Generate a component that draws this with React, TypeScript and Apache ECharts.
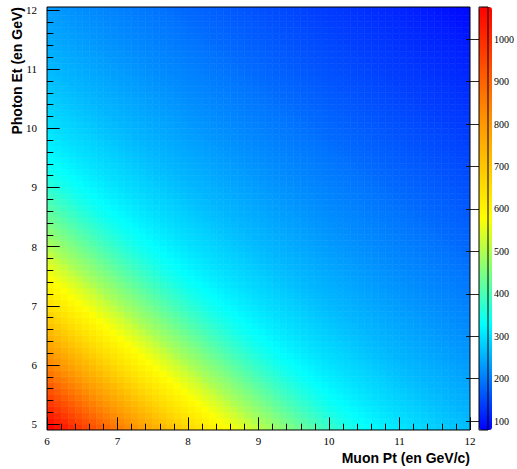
import React, { useEffect, useRef } from "react";
import * as echarts from "echarts";

// Histogram binning (data coordinates)
const muonPtRange = [6, 12];
const photonEtRange = [4.9, 12.05];
const binWidth = 0.1;
const countRange = [79, 1076];

// Bin contents read from the picture along anti-diagonals
// (Muon Pt + Photon Et = 11.0, 11.1, ..., 24.0)
const countsByPtSum = [
  1070, 1046, 1022, 999, 976, 954, 932, 910, 889, 868,
  848, 827, 806, 786, 766, 746, 727, 708, 689, 670,
  652, 636, 621, 606, 591, 576, 562, 548, 534, 520,
  500, 487, 474, 461, 448, 435, 422, 410, 398, 386,
  375, 364, 354, 345, 337, 330, 323, 317, 312, 307,
  302, 297, 293, 289, 285, 281, 277, 273, 269, 265,
  262, 258, 255, 252, 249, 246, 243, 240, 237, 234,
  232, 229, 226, 224, 221, 218, 216, 213, 211, 208,
  206, 203, 201, 198, 196, 193, 191, 188, 186, 183,
  181, 179, 176, 174, 172, 169, 167, 165, 162, 160,
  158, 156, 154, 151, 149, 147, 145, 143, 141, 139,
  137, 135, 133, 131, 129, 126, 124, 122, 120, 117,
  115, 113, 110, 108, 105, 102, 99, 96, 93, 90,
  87,
];

const palette = ["#0000ff", "#00ffff", "#ffff00", "#ff8c00", "#ff0000"];

const xTitle = "Muon Pt (en GeV/c)";
const yTitle = "Photon Et (en GeV)";

function buildCells() {
  const nx = Math.round((muonPtRange[1] - muonPtRange[0]) / binWidth);
  const ny = Math.ceil((photonEtRange[1] - photonEtRange[0]) / binWidth - 1e-9);
  const cells: number[][] = [];
  for (let r = 0; r < ny; r++) {
    for (let c = 0; c < nx; c++) {
      const x0 = muonPtRange[0] + c * binWidth;
      const y0 = photonEtRange[0] + r * binWidth;
      const x1 = Math.min(x0 + binWidth, muonPtRange[1]);
      const y1 = Math.min(y0 + binWidth, photonEtRange[1]);
      const v = countsByPtSum[r + c];
      if (v === undefined) continue;
      cells.push([x0, y0, x1, y1, v]);
    }
  }
  return cells;
}

const serif = '"Liberation Serif", "Times New Roman", serif';
const sans = '"Liberation Sans", Arial, Helvetica, sans-serif';

export default function App() {
  const ref = useRef<HTMLDivElement>(null);
  useEffect(() => {
    if (!ref.current) return;
    const chart = echarts.init(ref.current, null, { renderer: "svg" });
    const tickStyle = { color: "#000", width: 1 };
    const option: any = {
      animation: false,
      backgroundColor: "#fff",
      grid: [
        { left: 47, right: 47, top: 7, bottom: 39, show: true, borderColor: "#000", borderWidth: 1, backgroundColor: "transparent", z: 10 },
        { left: 479, top: 7, width: 13, height: 423, show: true, borderColor: "#000", borderWidth: 1, backgroundColor: "transparent", z: 10 },
        { left: 47, right: 47, top: 9.96, bottom: 44.92 },
      ],
      xAxis: [
        {
          gridIndex: 0, type: "value", min: muonPtRange[0], max: muonPtRange[1], interval: 1,
          axisLine: { show: false },
          axisTick: { show: true, inside: true, length: 12.7, lineStyle: tickStyle },
          minorTick: { show: true, splitNumber: 5, length: 6.3, lineStyle: tickStyle },
          splitLine: { show: false }, minorSplitLine: { show: false },
          axisLabel: { color: "#000", fontFamily: serif, fontSize: 11, margin: 5 },
          z: 11,
        },
        { gridIndex: 1, type: "value", min: 0, max: 1, show: false },
        { gridIndex: 2, type: "value", min: 0, max: 1, show: false },
      ],
      yAxis: [
        { gridIndex: 0, type: "value", min: photonEtRange[0], max: photonEtRange[1], show: false },
        {
          gridIndex: 1, type: "value", min: countRange[0], max: countRange[1], splitNumber: 10, position: "right",
          axisLine: { show: false },
          axisTick: { show: true, inside: true, length: 13, lineStyle: { color: "#000", width: 1, opacity: 0.85 } },
          splitLine: { show: false },
          axisLabel: {
            color: "#000", fontFamily: serif, fontSize: 10, margin: 6,
            showMinLabel: false, showMaxLabel: false,
            formatter: (v: number) => String(v),
          },
          z: 11,
        },
        {
          gridIndex: 2, type: "value", min: 5, max: 12, interval: 1,
          axisLine: { show: false },
          axisTick: { show: true, inside: true, length: 12.7, lineStyle: tickStyle },
          minorTick: { show: true, splitNumber: 5, length: 6.3, lineStyle: tickStyle },
          splitLine: { show: false }, minorSplitLine: { show: false },
          axisLabel: { color: "#000", fontFamily: serif, fontSize: 11, margin: 10 },
          z: 11,
        },
      ],
      visualMap: {
        type: "continuous",
        min: countRange[0], max: countRange[1],
        dimension: 4, seriesIndex: 0,
        inRange: { color: palette },
        orient: "vertical",
        left: 479, top: 7, itemWidth: 13, itemHeight: 423,
        padding: 0, calculable: false, hoverLink: false,
        z: 5,
      },
      series: [
        {
          type: "custom",
          xAxisIndex: 0, yAxisIndex: 0,
          clip: true, silent: true, progressive: 0,
          encode: { x: [0, 2], y: [1, 3] },
          data: buildCells(),
          renderItem: (params: any, api: any) => {
            const p0 = api.coord([api.value(0), api.value(3)]);
            const p1 = api.coord([api.value(2), api.value(1)]);
            const col = api.visual("color");
            return {
              type: "rect",
              shape: { x: p0[0], y: p0[1], width: p1[0] - p0[0], height: p1[1] - p0[1] },
              style: { fill: col, stroke: col, lineWidth: 0.6 },
            };
          },
        },
      ],
      graphic: [
        {
          type: "text", right: 47, top: 451, z: 20,
          style: { text: xTitle, font: `bold 14px ${sans}`, fill: "#000" },
        },
        {
          type: "text", x: 17, y: 7, rotation: Math.PI / 2, z: 20,
          style: { text: yTitle, font: `bold 14px ${sans}`, fill: "#000", align: "right", verticalAlign: "middle" },
        },
      ],
    };
    chart.setOption(option);
    return () => chart.dispose();
  }, []);
  return (
    <div
      ref={ref}
      style={{ position: "absolute", left: 0, top: 0, width: 517, height: 469, background: "#fff" }}
    />
  );
}
